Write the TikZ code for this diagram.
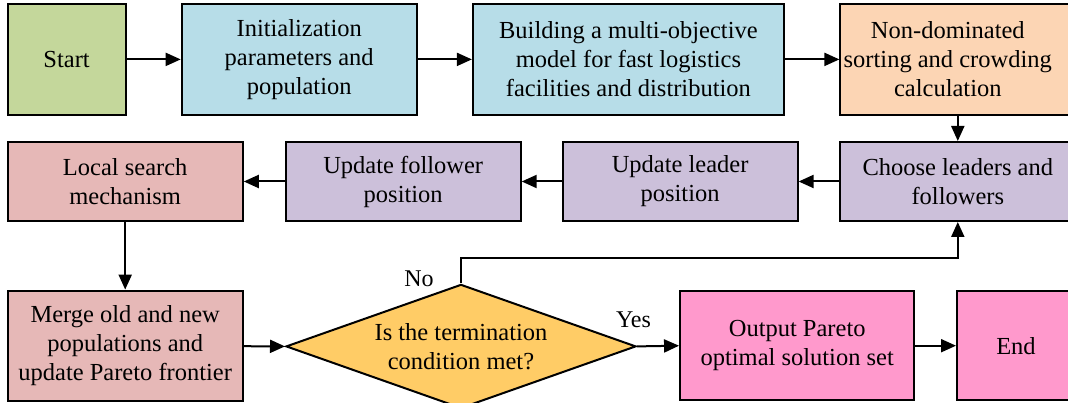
\documentclass[tikz,border=0pt]{standalone}
\usepackage{fontspec}
\setmainfont{Liberation Serif}
\newfontfamily\flowfont{Liberation Serif}
\usetikzlibrary{arrows.meta,shapes.geometric}

\definecolor{startgreen}{RGB}{196,215,155}
\definecolor{initblue}{RGB}{183,221,232}
\definecolor{sortpeach}{RGB}{252,213,180}
\definecolor{localrose}{RGB}{230,184,183}
\definecolor{updlilac}{RGB}{204,192,218}
\definecolor{decgold}{RGB}{255,204,102}
\definecolor{outpink}{RGB}{255,153,204}

\tikzset{
  flowbox/.style={draw=black, line width=2pt, rectangle, inner sep=0pt,
    align=center, font=\flowfont\fontsize{24.5}{29}\selectfont},
  boxtext/.style={inner sep=0pt, align=center,
    font=\flowfont\fontsize{24.5}{29}\selectfont},
  decision/.style={draw=black, line width=2pt, diamond, inner sep=0pt,
    aspect=2.82, align=center, font=\flowfont\fontsize{24.5}{29}\selectfont,
    minimum width=350pt, minimum height=124pt},
  flowarrow/.style={line width=2pt, -{Triangle[length=15pt,width=13pt]}},
  tag/.style={font=\flowfont\fontsize{24}{28}\selectfont, inner sep=0pt}
}

\begin{document}
\begin{tikzpicture}[x=1pt, y=-1pt]
\useasboundingbox (0,0) rectangle (1068,403);

% top row
\node[flowbox, fill=startgreen, minimum width=118pt, minimum height=110.6pt]
  (start) at (66.6,59.4) {Start};
\node[flowbox, fill=initblue, minimum width=235pt, minimum height=110.6pt]
  (init) at (299.2,59.4) {Initialization\\parameters and\\population};
\node[flowbox, fill=initblue, minimum width=311pt, minimum height=110.6pt]
  (model) at (628.4,59.4) {Building a multi-objective\\model for fast logistics\\facilities and distribution};
\node[flowbox, fill=sortpeach, minimum width=234.8pt, minimum height=110.6pt]
  (sort) at (957.8,59.4) {};
\node[boxtext] (sorttext) at ([xshift=-10pt]sort.center)
  {Non-dominated\\sorting and crowding\\calculation};

% middle row
\node[flowbox, fill=localrose, minimum width=235.2pt, minimum height=79pt]
  (local) at (125.2,181.5) {Local search\\mechanism};
\node[flowbox, fill=updlilac, minimum width=235pt, minimum height=79pt]
  (follower) at (403.2,181.5) {Update follower\\position};
\node[flowbox, fill=updlilac, minimum width=235pt, minimum height=79pt]
  (leader) at (680.1,181.5) {Update leader\\position};
\node[flowbox, fill=updlilac, minimum width=234.8pt, minimum height=79pt]
  (choose) at (957.8,181.5) {Choose leaders and\\followers};

% bottom row
\node[flowbox, fill=localrose, minimum width=235.2pt, minimum height=110.2pt]
  (merge) at (125.2,345.7) {Merge old and new\\populations and\\update Pareto frontier};
\node[decision, fill=decgold] (term) at (461,346.4) {Is the termination\\condition met?};
\node[flowbox, fill=outpink, minimum width=234.3pt, minimum height=109.1pt]
  (output) at (797.2,345.7) {Output Pareto\\optimal solution set};
\node[flowbox, fill=outpink, minimum width=118pt, minimum height=109.1pt]
  (end) at (1016,345.7) {End};

\coordinate (loop) at (957.8,257.7);

% connectors
\draw[flowarrow] (start) -- (init);
\draw[flowarrow] (init) -- (model);
\draw[flowarrow] (model) -- (sort);
\draw[flowarrow] (sort) -- (choose);
\draw[flowarrow] (choose) -- (leader);
\draw[flowarrow] (leader) -- (follower);
\draw[flowarrow] (follower) -- (local);
\draw[flowarrow] (local) -- (merge);
\draw[flowarrow] (merge) -- (term.west);
\draw[flowarrow] (term.east) -- (output.west);
\draw[flowarrow] (output) -- (end);
\draw[flowarrow] (term.north) |- (loop) -- (choose.south);

% branch labels
\node[tag] (nolabel) at (419,279) {No};
\node[tag] (yeslabel) at (633.5,320) {Yes};
\end{tikzpicture}
\end{document}
